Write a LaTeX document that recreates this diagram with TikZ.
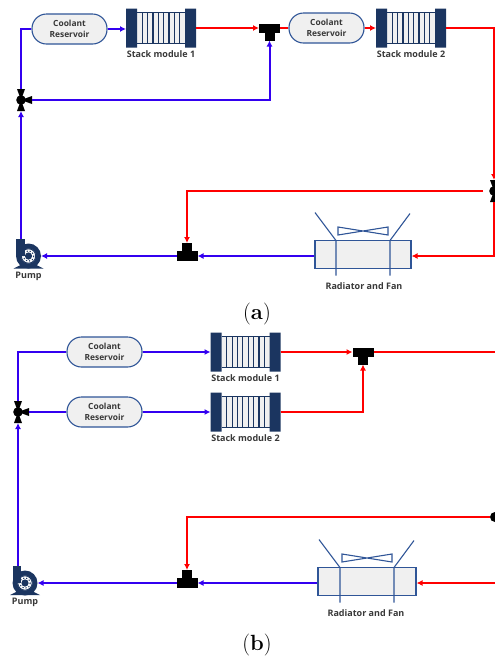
\documentclass[tikz,border=0pt]{standalone}
\usepackage{fontspec}
\newfontfamily\labelfont{Open Sans}
\usetikzlibrary{arrows.meta,calc,positioning}
\definecolor{navy}{HTML}{1B3560}
\definecolor{edge}{HTML}{2F5597}
\definecolor{paper}{HTML}{F0F0F0}
\definecolor{coolblue}{HTML}{3300F0}
\definecolor{coolred}{HTML}{FF0000}
\tikzset{
  reservoir/.style={draw=edge,fill=paper,line width=1.1pt,rounded corners=14.5pt,minimum width=75pt,minimum height=30pt,inner sep=0pt,align=center,font=\labelfont\bfseries\fontsize{8.4}{11}\selectfont,text=black!78},
  stackbox/.style={minimum width=70pt,minimum height=39pt,inner sep=0pt,outer sep=0pt,path picture={
    \begin{scope}[shift={(path picture bounding box.center)}]
      \fill[paper] (-24,-15.5) rectangle (24,15.5);
      \foreach \k in {-18.7,-13.35,...,18.8} \draw[navy,line width=1.2pt] (\k,-15.5) -- (\k,15.5);
      \draw[navy,line width=1.2pt] (-24,-15.5) -- (24,-15.5) (-24,15.5) -- (24,15.5);
      \fill[navy] (-35,-19.5) rectangle (-24,19.5) (24,-19.5) rectangle (35,19.5);
    \end{scope}}},
  caption/.style={inner sep=0pt,font=\labelfont\bfseries\fontsize{9}{10}\selectfont,text=black!78},
  teebar/.style={fill=black,minimum width=21pt,minimum height=9pt,inner sep=0pt,outer sep=0pt},
  teestem/.style={fill=black,minimum width=10pt,minimum height=8pt,inner sep=0pt,outer sep=0pt},
  threeway/.style={minimum width=22pt,minimum height=22pt,inner sep=0pt,outer sep=0pt,path picture={
    \begin{scope}[shift={(path picture bounding box.center)},xscale=#1]
      \fill[black] (-4,-11) -- (4,-11) -- (-4,11) -- (4,11) -- cycle;
      \fill[black] (0,0) -- (11,-4) -- (11,4) -- cycle;
      \fill[black] (0,0) circle (4.8);
    \end{scope}}},
  threeway/.default=1,
  valvetip/.style={circle,fill=black,minimum size=10pt,inner sep=0pt,outer sep=0pt},
  pumpbody/.style={circle,fill=navy,minimum size=25pt,inner sep=0pt,outer sep=0pt,path picture={
    \begin{scope}[shift={(path picture bounding box.center)}]
      \fill[white] (0,0) circle (7.4);
      \draw[navy,line width=0.9pt] (0,0) circle (7.2);
      \fill[navy] (0,0) circle (3.6);
      \draw[navy,line width=1pt,dash pattern=on 1.2pt off 2pt] (0,0) circle (5.3);
    \end{scope}}},
  pumpneck/.style={fill=navy,minimum width=8.5pt,minimum height=17pt,inner sep=0pt,outer sep=0pt},
  pumpbase/.style={minimum width=30pt,minimum height=3.5pt,inner sep=0pt,outer sep=0pt,path picture={
    \fill[navy] (path picture bounding box.south west) -- (path picture bounding box.south east) -- ([xshift=-7pt]path picture bounding box.north east) -- ([xshift=7pt]path picture bounding box.north west) -- cycle;}},
  radbox/.style={draw=edge,fill=paper,line width=1.1pt,minimum width=96pt,minimum height=28pt,inner sep=0pt},
  pipeblue/.style={draw=coolblue,line width=2pt},
  pipered/.style={draw=coolred,line width=2pt},
  radfan/.pic={
    \draw[edge,line width=1.1pt] (-27,-14) -- (-27,21) (-27,-14) -- (-48,-42);
    \draw[edge,line width=1.1pt] (27,-14) -- (27,21) (27,-14) -- (47,-41);
    \draw[edge,line width=1.1pt] (-25,-27.5) -- (25,-19.5) -- (25,-27.5) -- (-25,-19.5) -- cycle;
  }
}
\begin{document}
\begin{tikzpicture}[x=1pt,y=-1pt,>={Latex[length=6pt,width=6pt]}]
\clip (0,0) rectangle (495,657);
\useasboundingbox (0,0) rectangle (495,657);
% panel a
\node[reservoir] (resa1) at (69.5,29) {Coolant\\Reservoir};
\node[stackbox] (stka1) at (161,28) {};
\node[caption,below=3pt of stka1] (laba1) {Stack module 1};
\node[teebar] (teea1) at (269.5,28) {};
\node[teestem,below=0pt of teea1] (stema1) {};
\node[reservoir] (resa2) at (326.5,28) {Coolant\\Reservoir};
\node[stackbox] (stka2) at (411,28) {};
\node[caption,below=3pt of stka2] (laba2) {Stack module 2};
\node[threeway] (vala1) at (21,100) {};
\node[threeway=-1] (vala2) at (494,191) {};
\node[teebar,minimum height=10pt] (teea2) at (187,256) {};
\node[teestem,above=0pt of teea2] (stema2) {};
\node[radbox] (rada) at (363,254.5) {};
\pic at (rada) {radfan};
\node[caption,below=13pt of rada,xshift=1pt] (laba3) {Radiator and Fan};
\node[pumpbody] (pumpa) at (28.5,256) {};
\node[pumpneck,anchor=north] (necka) at (20.5,239) {};
\node[pumpbase,anchor=south] (basea) at (28.5,268.5) {};
\node[caption,below=3pt of basea] (laba4) {Pump};
\node[font=\fontsize{22}{26}\selectfont,inner sep=0pt] (capa) at (257,314) {(\textbf{a})};
\draw[pipeblue] (vala1.north) |- (resa1.west);
\draw[pipeblue,->] (resa1.east) -- (stka1.west |- resa1);
\draw[pipered,->] (stka1.east) -- (teea1.west);
\draw[pipered] (teea1.east) -- (resa2.west);
\draw[pipered,->] (resa2.east) -- (stka2.west |- resa2);
\draw[pipered,->] (stka2.east) -| (vala2.north);
\draw[pipeblue,->] (vala1.east) -| (stema1.south);
\draw[pipered,->] (vala2.west) -| (stema2.north);
\draw[pipered,->] (vala2.south) |- (rada.east |- teea2);
\draw[pipeblue,->] (rada.west |- teea2) -- (teea2.east);
\draw[pipeblue,->] (teea2.west) -- (pumpa.east);
\draw[pipeblue,->] (vala1.south |- necka.north) -- (vala1.south);
% panel b
\node[reservoir] (resb1) at (104.5,352) {Coolant\\Reservoir};
\node[reservoir] (resb2) at (104.5,412) {Coolant\\Reservoir};
\node[stackbox] (stkb1) at (245.5,352) {};
\node[caption,below=3pt of stkb1] (labb1) {Stack module 1};
\node[stackbox] (stkb2) at (245.5,412) {};
\node[caption,below=3pt of stkb2] (labb2) {Stack module 2};
\node[teebar] (teeb1) at (363,352) {};
\node[teestem,below=0pt of teeb1] (stemb1) {};
\node[threeway] (valb1) at (18,412) {};
\node[valvetip] (valb2) at (495,517) {};
\node[teebar,minimum height=10pt] (teeb2) at (187,583) {};
\node[teestem,above=0pt of teeb2] (stemb2) {};
\node[radbox,minimum width=98pt] (radb) at (367,581.5) {};
\pic at (radb) {radfan};
\node[caption,below=13pt of radb,xshift=-1pt] (labb3) {Radiator and Fan};
\node[pumpbody] (pumpb) at (25,583) {};
\node[pumpneck,anchor=north] (neckb) at (17,566) {};
\node[pumpbase,anchor=south] (baseb) at (25,595) {};
\node[caption,below=3pt of baseb] (labb4) {Pump};
\node[font=\fontsize{22}{26}\selectfont,inner sep=0pt] (capb) at (257,645) {(\textbf{b})};
\coordinate (edgeb1) at (495,352);
\coordinate (edgeb2) at (495,583);
\draw[pipeblue] (valb1.north) |- (resb1.west);
\draw[pipeblue,->] (resb1.east) -- (stkb1.west |- resb1);
\draw[pipeblue] (valb1.east) -- (resb2.west |- valb1);
\draw[pipeblue,->] (resb2.east) -- (stkb2.west |- resb2);
\draw[pipered,->] (stkb1.east) -- (teeb1.west);
\draw[pipered] (teeb1.east) -- (edgeb1);
\draw[pipered,->] (stkb2.east) -| (stemb1.south);
\draw[pipered,->] (valb2.west) -| (stemb2.north);
\draw[pipered,->] (edgeb2) -- (radb.east |- teeb2);
\draw[pipeblue,->] (radb.west |- teeb2) -- (teeb2.east);
\draw[pipeblue,->] (teeb2.west) -- (pumpb.east);
\draw[pipeblue,->] (valb1.south |- neckb.north) -- (valb1.south);
\end{tikzpicture}
\end{document}
